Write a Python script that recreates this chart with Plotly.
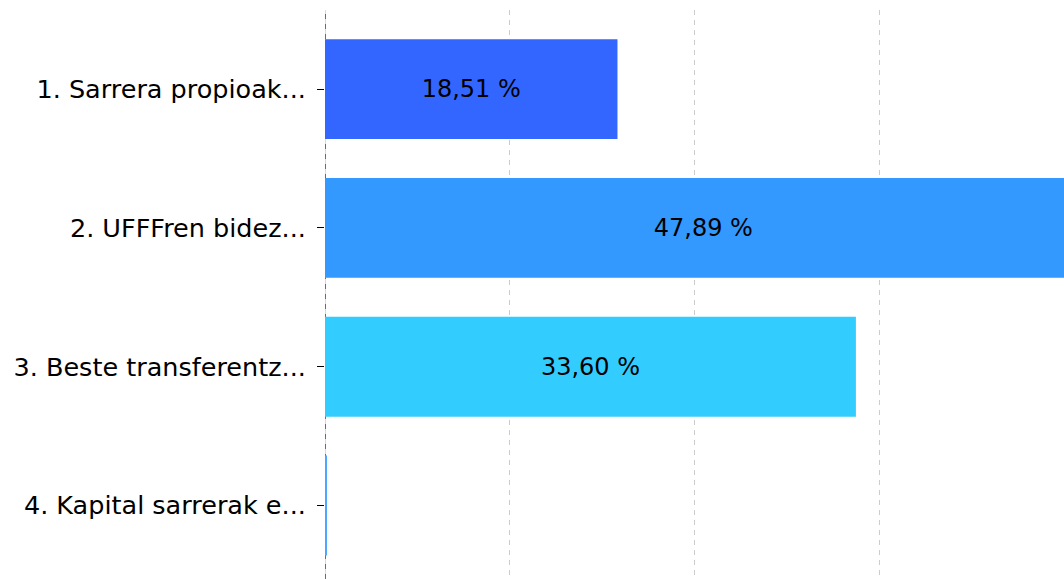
import plotly.graph_objects as go

# Income breakdown, share of total (%)
categories = [
    "1. Sarrera propioak...",
    "2. UFFFren bidez...",
    "3. Beste transferentz...",
    "4. Kapital sarrerak e...",
]
shares = [18.51, 47.89, 33.60, 0.08]
labels = ["18,51 %", "47,89 %", "33,60 %", ""]
colors = ["#3366FF", "#3399FF", "#33CCFF", "#4DA6FF"]

x_max = 46.77
font_family = "DejaVu Sans, Verdana, sans-serif"
value_font_size = 24
category_font_size = 25.5

fig = go.Figure(
    go.Bar(
        y=categories,
        x=shares,
        orientation="h",
        marker=dict(color=colors, line=dict(width=0)),
        text=labels,
        textposition="inside",
        insidetextanchor="middle",
        textangle=0,
        textfont=dict(family=font_family, size=value_font_size, color="#000000"),
        width=0.72,
        cliponaxis=True,
        hoverinfo="skip",
    )
)

# baseline at zero: light grey rule with black dashes on top
fig.add_shape(
    type="line", xref="x", yref="paper", x0=0, x1=0, y0=0, y1=1,
    line=dict(color="#b4b4b4", width=1), layer="below",
)
fig.add_shape(
    type="line", xref="x", yref="paper", x0=0, x1=0, y0=0, y1=1,
    line=dict(color="#000000", width=1, dash="5px,5px"), layer="below",
)

fig.update_layout(
    width=1064,
    height=579,
    margin=dict(l=325, r=0, t=10, b=0),
    paper_bgcolor="white",
    plot_bgcolor="white",
    showlegend=False,
    uniformtext=dict(mode=False),
    font=dict(family=font_family, size=value_font_size, color="#000000"),
    xaxis=dict(
        range=[0, x_max],
        tick0=0,
        dtick=x_max / 4,
        showticklabels=False,
        showgrid=True,
        gridcolor="#cccccc",
        griddash="5px,5px",
        gridwidth=1,
        zeroline=False,
        showline=False,
        ticks="",
    ),
    yaxis=dict(
        categoryorder="array",
        categoryarray=categories,
        range=[3.53, -0.57],
        showgrid=False,
        zeroline=False,
        showline=False,
        ticks="outside",
        ticklen=7,
        tickcolor="#000000",
        tickwidth=1,
        ticklabelstandoff=6,
        tickfont=dict(family=font_family, size=category_font_size, color="#000000"),
    ),
)

fig.write_html("out.html")
